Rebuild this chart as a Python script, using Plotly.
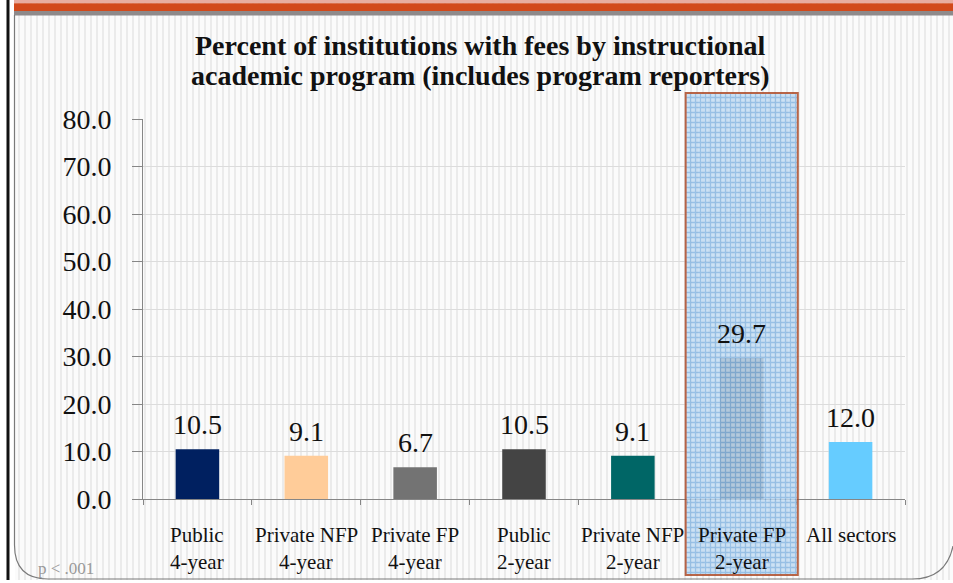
import base64
import struct
import zlib

import plotly.graph_objects as go

# ---------------- data ----------------
categories = ["Public 4-year", "Private NFP 4-year", "Private FP 4-year",
              "Public 2-year", "Private NFP 2-year", "Private FP 2-year", "All sectors"]
label_line1 = ["Public", "Private NFP", "Private FP", "Public", "Private NFP", "Private FP", "All sectors"]
label_line2 = ["4-year", "4-year", "4-year", "2-year", "2-year", "2-year", ""]
values = [10.5, 9.1, 6.7, 10.5, 9.1, 29.7, 12.0]
bar_colors = ["#002060", "#FFCC99", "#737373", "#444444", "#006666", "#7F7F7F", "#66CCFF"]
highlight_category = "Private FP 2-year"
y_ticks = [0, 10, 20, 30, 40, 50, 60, 70, 80]
title_lines = ["Percent of institutions with fees by instructional",
               "academic program (includes program reporters)"]

W, H = 953, 583
SERIF = "Liberation Serif, DejaVu Serif, serif"


def px_x(x):
    return x / W


def px_y(y):
    return 1 - y / H


# ---------------- striped slide background (PNG data URI) ----------------
def stripe_png(width):
    row = bytearray([0])
    for x in range(width):
        if x < 15:
            row += bytes((255, 255, 255))
        elif x % 6 in (0, 1):
            row += bytes((235, 235, 235))
        else:
            row += bytes((251, 251, 251))
    raw = bytes(row)

    def chunk(tag, data):
        c = struct.pack(">I", len(data)) + tag + data
        return c + struct.pack(">I", zlib.crc32(tag + data) & 0xFFFFFFFF)

    png = b"\x89PNG\r\n\x1a\n"
    png += chunk(b"IHDR", struct.pack(">IIBBBBB", width, 1, 8, 2, 0, 0, 0))
    png += chunk(b"IDAT", zlib.compress(raw))
    png += chunk(b"IEND", b"")
    return "data:image/png;base64," + base64.b64encode(png).decode()


fig = go.Figure()

# main bars
fig.add_trace(go.Bar(
    x=categories, y=values, marker=dict(color=bar_colors, line=dict(width=0)),
    width=0.4, hoverinfo="x+y", showlegend=False,
))

# highlight box (drawn in a full-height companion subplot sharing the category x axis)
hl_bottom, hl_top = px_y(575), px_y(93)
fig.add_trace(go.Bar(
    x=[highlight_category], y=[hl_top - hl_bottom], base=[hl_bottom],
    xaxis="x", yaxis="y2", width=1.03, showlegend=False, hoverinfo="skip",
    marker=dict(
        color="#B9D7F2",
        opacity=0.8,
        line=dict(color="#A8401C", width=2),
        pattern=dict(shape="+", fgcolor="#3F8AD0", bgcolor="#C2DCF3", size=5, solidity=0.45),
    ),
))

annotations = []
# title (two lines)
for i, line in enumerate(title_lines):
    annotations.append(dict(
        x=px_x(481), y=px_y(45 + 30 * i), xref="paper", yref="paper", text=f"<b>{line}</b>",
        showarrow=False, xanchor="center", yanchor="middle",
        font=dict(family=SERIF, size=28, color="#111111"),
    ))
# data labels
for c, v in zip(categories, values):
    annotations.append(dict(
        x=c, y=v, xref="x", yref="y", text=f"{v:.1f}", showarrow=False,
        yanchor="bottom", yshift=7, font=dict(family=SERIF, size=28, color="#111111"),
    ))
# category labels (two lines)
for c, l1, l2 in zip(categories, label_line1, label_line2):
    annotations.append(dict(
        x=c, y=px_y(535), xref="x", yref="paper", text=l1, showarrow=False,
        yanchor="middle", font=dict(family=SERIF, size=21, color="#111111"),
    ))
    if l2:
        annotations.append(dict(
            x=c, y=px_y(562), xref="x", yref="paper", text=l2, showarrow=False,
            yanchor="middle", font=dict(family=SERIF, size=21, color="#111111"),
        ))
# footnote
annotations.append(dict(
    x=px_x(36), y=px_y(568), xref="paper", yref="paper", text="p < .001", showarrow=False,
    xanchor="left", yanchor="middle", font=dict(family=SERIF, size=17, color="#999999"),
))

# slide decoration shapes
shapes = [
    dict(type="rect", xref="paper", yref="paper", x0=px_x(14), x1=1, y0=px_y(3.3), y1=1,
         fillcolor="#E8AC9F", line=dict(width=0), layer="below"),
    dict(type="rect", xref="paper", yref="paper", x0=px_x(14), x1=1, y0=px_y(11), y1=px_y(3.3),
         fillcolor="#D2491B", line=dict(width=0), layer="below"),
    dict(type="rect", xref="paper", yref="paper", x0=px_x(14), x1=1, y0=px_y(15.5), y1=px_y(11),
         fillcolor="#8E8A8B", line=dict(width=0), layer="below"),
    dict(type="rect", xref="paper", yref="paper", x0=px_x(6.5), x1=px_x(9.5), y0=0, y1=1,
         fillcolor="#111111", line=dict(width=0), layer="below"),
    dict(type="rect", xref="paper", yref="paper", x0=0, x1=1, y0=0, y1=px_y(580),
         fillcolor="#FFFFFF", line=dict(width=0), layer="below"),
]
path = (f"M {px_x(14.5)},{px_y(15)} L {px_x(14.5)},{px_y(545)} "
        f"Q {px_x(14.5)},{px_y(579)} {px_x(48)},{px_y(579)} "
        f"L {px_x(912)},{px_y(579)} Q {px_x(946)},{px_y(579)} {px_x(953)},{px_y(546)}")
shapes.append(dict(type="path", xref="paper", yref="paper", path=path,
                   line=dict(color="#7A7A7A", width=1.2), layer="below"))

fig.update_layout(
    width=W, height=H,
    margin=dict(l=0, r=0, t=0, b=0, pad=0, autoexpand=False),
    paper_bgcolor="#FFFFFF",
    plot_bgcolor="rgba(0,0,0,0)",
    barmode="overlay",
    showlegend=False,
    xaxis=dict(
        domain=[px_x(143), px_x(905)], automargin=False,
        type="category", categoryorder="array", categoryarray=categories,
        range=[-0.5, len(categories) - 0.5],
        showticklabels=False, tickson="boundaries", ticks="outside", ticklen=5,
        tickcolor="#868686", showline=True, linecolor="#868686", linewidth=1,
        showgrid=False, zeroline=False, anchor="y",
    ),
    yaxis=dict(
        domain=[px_y(499), px_y(119)], range=[0, 80], tickvals=y_ticks, automargin=False,
        ticktext=[f"{t:.1f}" for t in y_ticks],
        ticks="outside", ticklen=10, tickcolor="#868686", ticklabelstandoff=15,
        showline=True, linecolor="#868686", linewidth=1,
        showgrid=True, gridcolor="#DCDCDC", gridwidth=1, zeroline=False,
        tickfont=dict(family=SERIF, size=28, color="#111111"), anchor="x",
    ),
    yaxis2=dict(
        domain=[0, 1], range=[0, 1], visible=False, anchor="x", automargin=False,
        showgrid=False, zeroline=False, fixedrange=True,
    ),
    images=[dict(source=stripe_png(W), xref="paper", yref="paper", x=0, y=1,
                 sizex=1, sizey=1, sizing="stretch", xanchor="left", yanchor="top",
                 layer="below")],
    shapes=shapes,
    annotations=annotations,
)

fig.write_html("out.html", config={"displayModeBar": False},
               post_script="document.body.style.margin='0';")
